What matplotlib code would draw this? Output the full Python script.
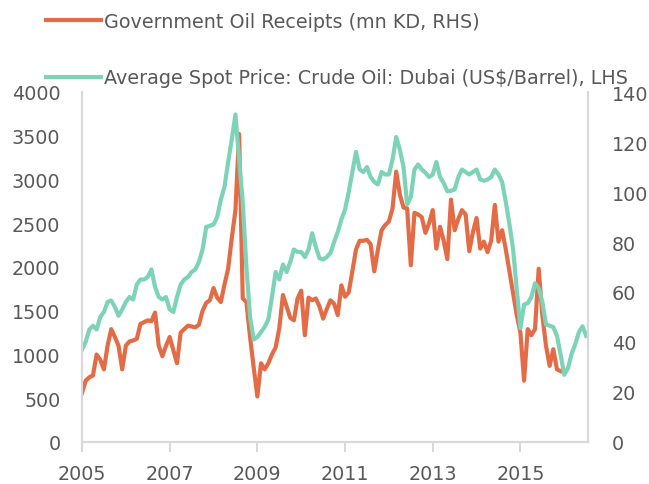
import matplotlib
matplotlib.use("Agg")
import matplotlib.pyplot as plt
import numpy as np

# Monthly data, Jan 2005 onward
receipts = [
    # 2005
    560, 700, 740, 760, 1000, 940, 830, 1100, 1290, 1200, 1100, 830,
    # 2006
    1100, 1150, 1160, 1180, 1350, 1370, 1390, 1380, 1480, 1100, 980, 1100,
    # 2007
    1200, 1050, 900, 1250, 1290, 1330, 1320, 1310, 1340, 1500, 1590, 1620,
    # 2008
    1760, 1650, 1600, 1800, 1980, 2330, 2650, 3520, 1640, 1600, 1200, 850,
    # 2009
    520, 900, 830, 900, 1000, 1080, 1300, 1680, 1550, 1420, 1390, 1640,
    # 2010
    1730, 1220, 1650, 1620, 1640, 1550, 1410, 1520, 1620, 1580, 1450, 1790,
    # 2011
    1660, 1710, 1950, 2200, 2300, 2300, 2310, 2260, 1950, 2200, 2420, 2480,
    # 2012
    2520, 2670, 3090, 2830, 2680, 2670, 2020, 2620, 2600, 2570, 2390, 2500,
    # 2013
    2650, 2210, 2460, 2300, 2090, 2770, 2420, 2550, 2650, 2600, 2180, 2400,
    # 2014
    2560, 2210, 2290, 2170, 2300, 2710, 2290, 2420, 2200, 1950, 1700, 1450,
    # 2015
    1250, 700, 1290, 1220, 1290, 1980, 1450, 1100, 870, 1060, 830, 810,
]

oil_price = [
    # 2005
    37, 40, 45, 46.5, 45, 50, 52, 56, 56.6, 54, 50.5, 53,
    # 2006
    56, 58, 57, 63, 65, 65, 66, 69, 62, 58, 57, 58,
    # 2007
    53, 52, 58, 63, 65, 66, 68, 69, 72, 77, 86, 86.5,
    # 2008
    87, 90, 97, 102, 112, 121, 131, 113, 96, 70, 50, 41,
    # 2009
    42, 44, 46, 49, 58, 68, 65, 71, 68, 72, 77, 76,
    # 2010
    76, 74, 77, 83.5, 78, 73.5, 73, 74, 75.6, 80, 84, 89,
    # 2011
    93, 100, 108, 116, 109, 108, 110, 106, 104, 103, 108, 107,
    # 2012
    107, 113, 122, 117, 110, 95, 98, 109, 111, 109, 107.7, 106,
    # 2013
    107, 112, 106, 103.6, 100.3, 100.5, 101, 106, 109, 108, 107, 108,
    # 2014
    109, 105, 104.5, 105, 106, 109, 107, 104, 96, 87, 77, 61,
    # 2015
    45.5, 55, 55.5, 58, 63.5, 61.5, 56, 47, 46.5, 46, 42.5, 35,
    # 2016
    26.9, 29.4, 35.2, 39.1, 43.9, 46.3, 42.5,
]

start_year = 2005
x_ticks = [2005, 2007, 2009, 2011, 2013, 2015]
left_ticks = [0, 500, 1000, 1500, 2000, 2500, 3000, 3500, 4000]
right_ticks = [0, 20, 40, 60, 80, 100, 120, 140]

label_receipts = "Government Oil Receipts (mn KD, RHS)"
label_price = "Average Spot Price: Crude Oil: Dubai (US$/Barrel), LHS"

orange = "#E36C47"
teal = "#7DD3B8"
gray_txt = "#595959"
spine_c = "#D9D9D9"
fs = 13.8

plt.rcParams['font.family'] = ['DejaVu Sans']

x_r = start_year + np.arange(len(receipts)) / 12.0
x_p = start_year + np.arange(len(oil_price)) / 12.0

fig = plt.figure(figsize=(6.49, 4.85), dpi=100)
ax = fig.add_axes([82/649, 1-443/485, (588-82)/649, (443-93)/485])
ax2 = ax.twinx()

l1, = ax.plot(x_r, receipts, color=orange, lw=3, solid_joinstyle='round')
l2, = ax2.plot(x_p, oil_price, color=teal, lw=3, solid_joinstyle='round')

ax.set_xlim(2005, 2005 + 138.5/12)
ax.set_ylim(0, 4000)
ax2.set_ylim(0, 140)
ax.set_xticks(x_ticks)
ax.set_xticklabels([str(t) for t in x_ticks])
ax.set_yticks(left_ticks)
ax2.set_yticks(right_ticks)

for a in (ax, ax2):
    for s in a.spines.values():
        s.set_color(spine_c)
        s.set_linewidth(1.5)
    a.spines['top'].set_visible(False)

ax.tick_params(axis='x', colors=spine_c, labelcolor=gray_txt, labelsize=fs,
               length=7, width=1.5, direction='out', pad=9)
ax.tick_params(axis='y', length=0, labelcolor=gray_txt, labelsize=fs, pad=15.5)
ax2.tick_params(axis='y', length=0, labelcolor=gray_txt, labelsize=fs, pad=17)

fig.legend([l1, l2], [label_receipts, label_price], loc='upper left',
           bbox_to_anchor=(46/649, 1-13/485), frameon=False, fontsize=fs,
           handlelength=2.85, handletextpad=0.2, labelspacing=1.95,
           labelcolor=gray_txt, borderaxespad=0, borderpad=0)

fig.savefig("out.png", dpi=100)
